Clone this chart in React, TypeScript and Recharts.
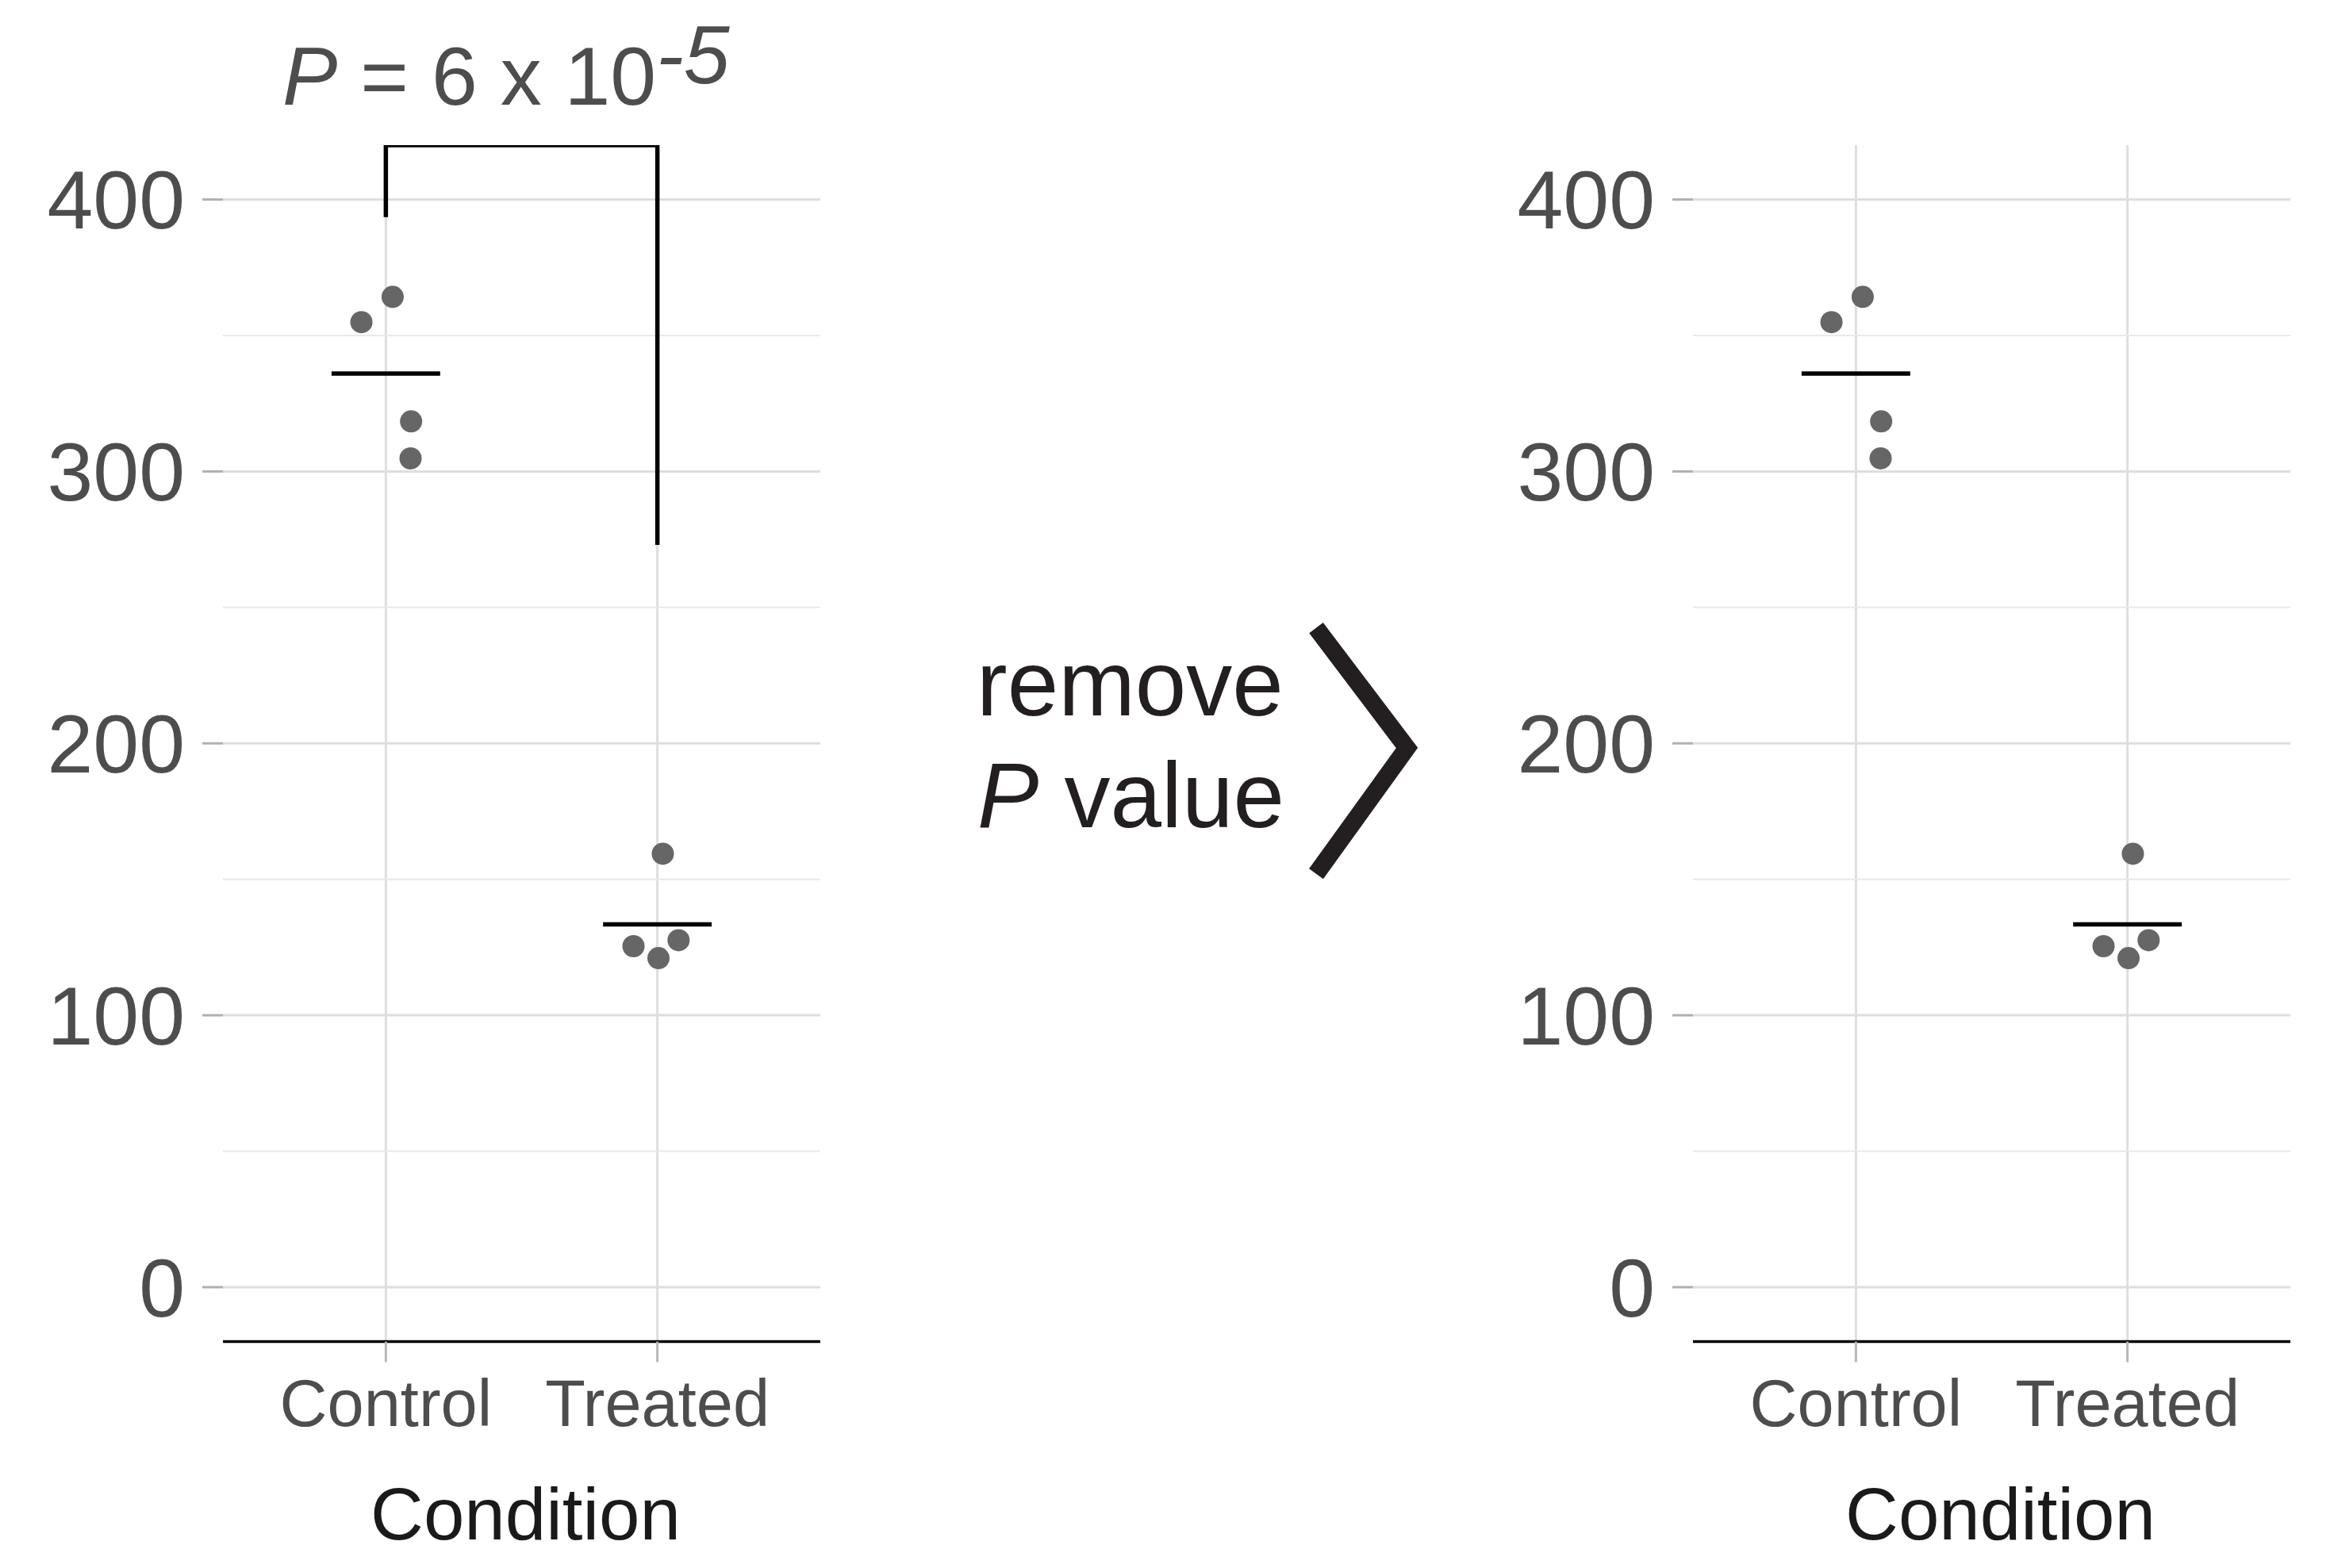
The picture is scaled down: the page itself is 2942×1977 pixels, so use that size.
import React from 'react';
import {
  ComposedChart,
  Scatter,
  XAxis,
  YAxis,
  CartesianGrid,
  ReferenceLine,
} from 'recharts';

// ---- data ----
const categories = ['Control', 'Treated'];
const categoryPositions = [1, 2];
const controlValues = [364.2, 354.9, 318.4, 304.8];
const controlJitter = [0.025, -0.09, 0.093, 0.091];
const treatedValues = [159.4, 125.4, 121.0, 127.6];
const treatedJitter = [0.02, -0.088, 0.004, 0.078];
const groupMeans = [336, 133.4];
const meanHalfWidth = 0.2;
const yTicks = [0, 100, 200, 300, 400];
const yMinorTicks = [50, 150, 250, 350];
const yDomain = [-20, 420];
const xDomain = [0.4, 2.6];
const bracketLeftEnd = 393.5;
const bracketTop = 420;
const bracketRightEnd = 273;
const pValueMantissa = '6';
const pValueExponent = '-5';

const FONT = 'Liberation Sans, Arial, Helvetica, sans-serif';

const points = [
  ...controlValues.map((y, i) => ({ x: 1 + controlJitter[i], y })),
  ...treatedValues.map((y, i) => ({ x: 2 + treatedJitter[i], y })),
];

const bracketPts = [
  { x: 1, y: bracketLeftEnd },
  { x: 1, y: bracketTop },
  { x: 2, y: bracketTop },
  { x: 2, y: bracketRightEnd },
];

const Dot = (props: any) => (
  <circle cx={props.cx} cy={props.cy} r={14} fill="#666666" />
);
const NoShape = () => <g />;

const hGen = (args: any) => {
  const s = args?.yAxis?.scale;
  if (typeof s === 'function') return yTicks.map((t) => s(t));
  if (s && typeof s.map === 'function') return yTicks.map((t) => s.map(t));
  return [];
};
const vGen = (args: any) => {
  const s = args?.xAxis?.scale;
  if (typeof s === 'function') return categoryPositions.map((t) => s(t));
  if (s && typeof s.map === 'function') return categoryPositions.map((t) => s.map(t));
  return [];
};

function Panel({ width, rightMargin, showBracket, labelDx }: { width: number; rightMargin: number; showBracket: boolean; labelDx: number }) {
  return (
    <ComposedChart
      width={width}
      height={1977}
      margin={{ top: 183, right: rightMargin, bottom: 36.5, left: 0 }}
    >
      <CartesianGrid
        stroke="#dedede"
        strokeWidth={3}
        horizontalCoordinatesGenerator={hGen}
        verticalCoordinatesGenerator={vGen}
      />
      {yMinorTicks.map((v) => (
        <ReferenceLine key={v} y={v} stroke="#e9e9e9" strokeWidth={2} />
      ))}
      <XAxis
        type="number"
        dataKey="x"
        domain={xDomain}
        ticks={categoryPositions}
        interval={0}
        tickFormatter={(v: number) => categories[Math.round(v) - 1]}
        tickSize={26}
        tickMargin={22}
        tickLine={{ stroke: '#b8b8b8', strokeWidth: 3 }}
        axisLine={{ stroke: '#000000', strokeWidth: 3.5 }}
        tick={{ fontSize: 83, fill: '#4d4d4d', fontFamily: FONT }}
        height={249}
        label={{
          value: 'Condition',
          position: 'insideBottom',
          offset: 0,
          dx: labelDx,
          fontSize: 92.5,
          fill: '#1a1a1a',
          fontFamily: FONT,
        }}
      />
      <YAxis
        type="number"
        dataKey="y"
        domain={yDomain}
        ticks={yTicks}
        interval={0}
        width={281}
        tickSize={26}
        tickMargin={22}
        axisLine={false}
        tickLine={{ stroke: '#b0b0b0', strokeWidth: 3 }}
        tick={{ fontSize: 104, fill: '#4d4d4d', fontFamily: FONT }}
        allowDataOverflow
      />
      {groupMeans.map((m, i) => (
        <ReferenceLine
          key={'m' + i}
          segment={[
            { x: categoryPositions[i] - meanHalfWidth, y: m },
            { x: categoryPositions[i] + meanHalfWidth, y: m },
          ]}
          stroke="#000000"
          strokeWidth={5.5}
        />
      ))}
      <Scatter data={points} shape={Dot} isAnimationActive={false} />
      {showBracket && (
        <Scatter
          data={bracketPts}
          shape={NoShape}
          line={{ stroke: '#000000', strokeWidth: 5.5 }}
          isAnimationActive={false}
        />
      )}
    </ComposedChart>
  );
}

export default function App() {
  return (
    <div
      style={{
        position: 'absolute',
        left: 0,
        top: 0,
        width: 2942,
        height: 1977,
        background: '#ffffff',
        overflow: 'hidden',
        fontFamily: FONT,
      }}
    >
      <div style={{ position: 'absolute', left: 0, top: 0 }}>
        <Panel width={1100} rightMargin={66} showBracket={true} labelDx={5} />
      </div>
      <div style={{ position: 'absolute', left: 1853, top: 0 }}>
        <Panel width={1089} rightMargin={55} showBracket={false} labelDx={11} />
      </div>
      <svg
        width={2942}
        height={1977}
        style={{ position: 'absolute', left: 0, top: 0, pointerEvents: 'none' }}
      >
        <text x={356} y={132} fontSize={104} fill="#4d4d4d" fontFamily={FONT}>
          <tspan fontStyle="italic">P</tspan>
          <tspan>{' = ' + pValueMantissa + ' x 10'}</tspan>
          <tspan dy={-27} fontStyle="italic">{pValueExponent}</tspan>
        </text>
        <text x={1231} y={902} fontSize={116} fill="#231f20" fontFamily={FONT}>
          remove
        </text>
        <text x={1232} y={1043} fontSize={116} fill="#231f20" fontFamily={FONT}>
          <tspan fontStyle="italic">P</tspan>
          <tspan> value</tspan>
        </text>
        <polyline
          points="1659,791.7 1773.5,943 1659,1101.7"
          fill="none"
          stroke="#231f20"
          strokeWidth={22}
          strokeLinejoin="miter"
          strokeLinecap="butt"
        />
      </svg>
    </div>
  );
}
